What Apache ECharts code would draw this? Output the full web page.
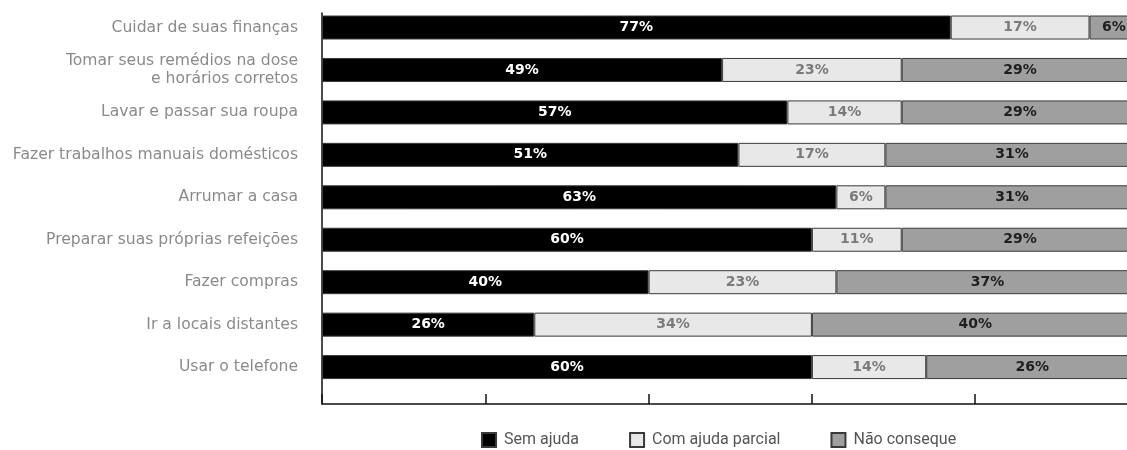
<!DOCTYPE html>
<html>
<head>
<meta charset="utf-8">
<script src="https://cdn.jsdelivr.net/npm/echarts@6/dist/echarts.min.js"></script>
<style>
  html, body { margin: 0; padding: 0; background: #fff; }
  #chart { width: 1127px; height: 450px; }
</style>
</head>
<body>
<div id="chart"></div>
<script>
// categories top to bottom
const categories = [
  'Cuidar de suas finanças',
  'Tomar seus remédios na dose\ne horários corretos',
  'Lavar e passar sua roupa',
  'Fazer trabalhos manuais domésticos',
  'Arrumar a casa',
  'Preparar suas próprias refeições',
  'Fazer compras',
  'Ir a locais distantes',
  'Usar o telefone'
]

// bar lengths (%)
const semAjuda = [77, 49, 57, 51, 63, 60, 40, 26, 60]
const comAjudaParcial = [17, 22, 14, 18, 6, 11, 23, 34, 14]
const naoConsegue = [6, 29, 29, 31, 31, 29, 37, 40, 26]

// printed labels (the original prints these, a couple differ from bar length)
const semAjudaLabels = [77, 49, 57, 51, 63, 60, 40, 26, 60]
const comAjudaParcialLabels = [17, 23, 14, 17, 6, 11, 23, 34, 14]
const naoConsegueLabels = [6, 29, 29, 31, 31, 29, 37, 40, 26]

const seriesNames = ['Sem ajuda', 'Com ajuda parcial', 'Não conseque']

const textFont = '"DejaVu Sans", sans-serif'

function barSeries(name, values, labels, fill, textColor) {
  return {
    name,
    type: 'bar',
    stack: 'total',
    xAxisIndex: 0,
    yAxisIndex: 0,
    barWidth: 24,
    data: values,
    itemStyle: { color: fill, borderColor: '#3a3a3a', borderWidth: 1 },
    label: {
      show: true,
      position: 'inside',
      formatter: (p) => labels[p.dataIndex] + '%',
      color: textColor,
      fontFamily: textFont,
      fontWeight: 'bold',
      fontSize: 14
    },
    emphasis: { disabled: true }
  }
}

const chart = echarts.init(document.getElementById('chart'), null, { renderer: 'canvas' })

chart.setOption({
  animation: false,
  grid: [
    // bars (run past the right edge of the page, like the original)
    { left: 322, top: 6.3, width: 816.5, height: 382, outerBoundsMode: 'none' },
    // axis frame
    { left: 322, top: 13, width: 816.5, height: 391, outerBoundsMode: 'none' }
  ],
  xAxis: [
    { gridIndex: 0, type: 'value', min: 0, max: 100, show: false },
    {
      gridIndex: 1, type: 'value', min: 0, max: 100, interval: 20,
      axisLine: { show: true, lineStyle: { color: '#111', width: 1.5 } },
      axisTick: { show: true, inside: true, length: 10, lineStyle: { color: '#111', width: 1.5 } },
      axisLabel: { show: false },
      splitLine: { show: false }
    }
  ],
  yAxis: [
    {
      gridIndex: 0, type: 'category', inverse: true, data: categories,
      axisLine: { show: false },
      axisTick: { show: false },
      axisLabel: {
        margin: 24,
        color: '#8a8a8a',
        fontFamily: textFont,
        fontSize: 15.6,
        lineHeight: 18
      }
    },
    {
      gridIndex: 1, type: 'value', min: 0, max: 1,
      axisLine: { show: true, lineStyle: { color: '#111', width: 1.5 } },
      axisTick: { show: false },
      axisLabel: { show: false },
      splitLine: { show: false }
    }
  ],
  legend: {
    left: 481,
    top: 432,
    padding: 0,
    itemWidth: 14,
    itemHeight: 14,
    itemGap: 50,
    icon: 'rect',
    textStyle: { color: '#555', fontFamily: 'Roboto, sans-serif', fontSize: 16, padding: [0, 0, 0, 3] },
    data: seriesNames
  },
  series: [
    barSeries(seriesNames[0], semAjuda, semAjudaLabels, '#000000', '#ffffff'),
    barSeries(seriesNames[1], comAjudaParcial, comAjudaParcialLabels, '#e8e8e8', '#7a7a7a'),
    barSeries(seriesNames[2], naoConsegue, naoConsegueLabels, '#9f9f9f', '#1e1e1e')
  ]
})
</script>
</body>
</html>
